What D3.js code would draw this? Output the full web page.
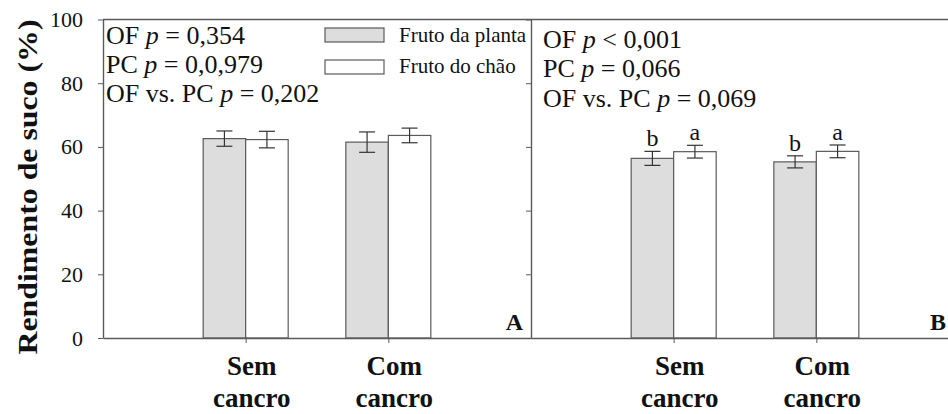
<!DOCTYPE html>
<html>
<head>
<meta charset="utf-8">
<script src="https://cdn.jsdelivr.net/npm/d3@7"></script>
<style>
  body { margin: 0; background: #fff; }
  svg { display: block; }
</style>
</head>
<body>
<svg id="chart"></svg>
<script>
// data
const groups = ["Sem cancro", "Com cancro"];
const series = ["Fruto da planta", "Fruto do chão"];
const valuesA = [[62.6, 62.3], [61.5, 63.6]];   // [group][series]
const errorsA = [[2.4, 2.6], [3.2, 2.3]];
const valuesB = [[56.4, 58.5], [55.3, 58.6]];
const errorsB = [[2.2, 2.0], [1.9, 2.0]];
const lettersB = [["b", "a"], ["b", "a"]];
const statsA = [["OF", "= 0,354"], ["PC", "= 0,0,979"], ["OF vs. PC", "= 0,202"]];
const statsB = [["OF", "< 0,001"], ["PC", "= 0,066"], ["OF vs. PC", "= 0,069"]];
const yTicks = [0, 20, 40, 60, 80, 100];

let width = 948;
let height = 414;
let topY = 19.5;
let bottomY = 338;
let panelW = 428;
let barW = 42.5;
let fills = ["#dcdddc", "#ffffff"];
let stroke = "#5a5a5a";
let serif = "'Liberation Serif', 'Times New Roman', Times, serif";

let svg = d3.select("#chart")
    .attr("width", width)
    .attr("height", height)
    .attr("font-family", serif);

let yScale = d3.scaleLinear()
    .domain([0, 100])
    .range([bottomY, topY]);

let xScale = d3.scalePoint()
    .domain(groups)
    .range([0, panelW])
    .padding(1);

function addText(sel) {
    return sel.append("text").attr("font-family", serif).attr("fill", "#111");
}

function drawPanel(left, values, errors, stats, tag, withLabels, statY, statX) {
    let g = svg.append("g").attr("transform", "translate(" + left + ",0)");

    // bars
    values.forEach((pair, gi) => {
        let cx = xScale(groups[gi]);
        pair.forEach((v, si) => {
            let x0 = si === 0 ? cx - barW : cx;
            g.append("rect")
                .attr("x", x0)
                .attr("y", yScale(v))
                .attr("width", barW)
                .attr("height", yScale(0) - yScale(v))
                .attr("fill", fills[si])
                .attr("stroke", stroke)
                .attr("stroke-width", 1.2);

            let mx = x0 + barW / 2;
            let e = errors[gi][si];
            g.append("line")
                .attr("x1", mx).attr("x2", mx)
                .attr("y1", yScale(v + e)).attr("y2", yScale(v - e))
                .attr("stroke", "#333").attr("stroke-width", 1.2);
            [v + e, v - e].forEach(t => {
                g.append("line")
                    .attr("x1", mx - 8).attr("x2", mx + 8)
                    .attr("y1", yScale(t)).attr("y2", yScale(t))
                    .attr("stroke", "#333").attr("stroke-width", 1.2);
            });
        });
    });

    // y axis
    let yAxis = d3.axisLeft(yScale)
        .tickValues(yTicks)
        .tickSize(5)
        .tickSizeOuter(0)
        .tickPadding(15);
    if (!withLabels) yAxis.tickFormat("");
    let ya = g.append("g").call(yAxis).attr("font-family", serif).attr("font-size", 22);
    ya.select(".domain").attr("stroke", stroke).attr("stroke-width", 1.4);
    ya.selectAll(".tick line").attr("stroke", stroke);
    ya.selectAll("text").attr("fill", "#111");

    // x axis
    let xa = g.append("g")
        .attr("transform", "translate(0," + bottomY + ")")
        .call(d3.axisBottom(xScale).tickSize(5).tickSizeOuter(0).tickFormat(""));
    xa.select(".domain").attr("stroke", stroke).attr("stroke-width", 1.4);
    xa.selectAll(".tick line").attr("stroke", stroke);

    groups.forEach(name => {
        let parts = name.split(" ");
        let t = addText(g)
            .attr("text-anchor", "middle")
            .attr("font-size", 27)
            .attr("font-weight", "bold");
        parts.forEach((p, i) => {
            t.append("tspan")
                .attr("x", xScale(name) + 6)
                .attr("y", 375 + i * 32)
                .text(p);
        });
    });

    // stats text
    stats.forEach((s, i) => {
        let t = addText(g)
            .attr("x", statX)
            .attr("y", statY[i])
            .attr("font-size", 26);
        t.append("tspan").text(s[0] + " ");
        t.append("tspan").attr("font-style", "italic").text("p");
        t.append("tspan").text(" " + s[1]);
    });

    // panel tag, kept inside the picture
    addText(g)
        .attr("x", Math.min(panelW - 8, width - left - 2))
        .attr("y", 330)
        .attr("text-anchor", "end")
        .attr("font-size", 24)
        .attr("font-weight", "bold")
        .text(tag);

    return g;
}

drawPanel(103, valuesA, errorsA, statsA, "A", true, [44, 73, 102], 3);
let gB = drawPanel(531, valuesB, errorsB, statsB, "B", false, [48, 77, 107], 12);

// significance letters on panel B
valuesB.forEach((pair, gi) => {
    let cx = xScale(groups[gi]);
    pair.forEach((v, si) => {
        let mx = (si === 0 ? cx - barW : cx) + barW / 2;
        addText(gB)
            .attr("x", mx)
            .attr("y", yScale(v + errorsB[gi][si]) - 5)
            .attr("text-anchor", "middle")
            .attr("font-size", 24)
            .text(lettersB[gi][si]);
    });
});

// top frame
svg.append("line")
    .attr("x1", 103).attr("x2", 531 + panelW)
    .attr("y1", topY).attr("y2", topY)
    .attr("stroke", stroke).attr("stroke-width", 1.4);

// legend
let legend = svg.append("g");
series.forEach((s, i) => {
    legend.append("rect")
        .attr("x", 325)
        .attr("y", 28 + i * 32)
        .attr("width", 59)
        .attr("height", 14)
        .attr("fill", fills[i])
        .attr("stroke", stroke)
        .attr("stroke-width", 1.2);
    addText(legend)
        .attr("x", 399)
        .attr("y", 42 + i * 31)
        .attr("font-size", 21)
        .text(s);
});

// y label
addText(svg)
    .attr("transform", "translate(37,187) rotate(-90)")
    .attr("text-anchor", "middle")
    .attr("textLength", 335)
    .attr("lengthAdjust", "spacingAndGlyphs")
    .attr("font-size", 28)
    .attr("font-weight", "bold")
    .text("Rendimento de suco (%)");
</script>
</body>
</html>
